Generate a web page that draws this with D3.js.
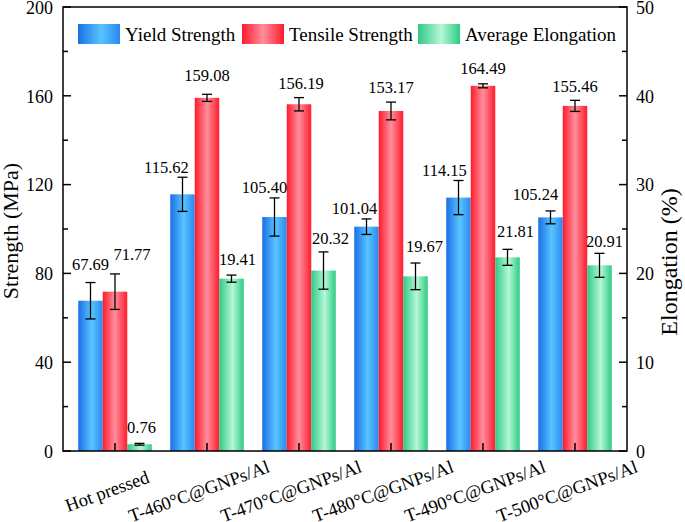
<!DOCTYPE html>
<html><head><meta charset="utf-8">
<script src="https://cdn.jsdelivr.net/npm/d3@7"></script>
<style>
html,body{margin:0;padding:0;background:#fff;}
svg{display:block;}
</style></head>
<body>
<svg id="chart" width="685" height="522"></svg>
<script>
// ---------- data ----------
const categories = ["Hot pressed","T-460°C@GNPs/Al","T-470°C@GNPs/Al","T-480°C@GNPs/Al","T-490°C@GNPs/Al","T-500°C@GNPs/Al"];
const seriesNames = ["Yield Strength","Tensile Strength","Average Elongation"];
const yieldStrength = [67.69,115.62,105.40,101.04,114.15,105.24];
const yieldErr      = [8.2,7.7,8.6,3.5,7.7,2.9];
const tensileStrength = [71.77,159.08,156.19,153.17,164.49,155.46];
const tensileErr      = [8.0,1.6,3.0,4.0,0.9,2.5];
const elongation = [0.76,19.41,20.32,19.67,21.81,20.91];
const elongErr   = [0.1,0.4,2.1,1.5,0.9,1.35];
const leftTicks = [0,40,80,120,160,200];
const rightTicks = [0,10,20,30,40,50];

// ---------- layout ----------
const FONT='Liberation Serif';
const L=63,R=627,T=7,B=451;
const svg=d3.select("#chart");
const yL=d3.scaleLinear().domain([0,200]).range([B,T]);
const yR=d3.scaleLinear().domain([0,50]).range([B,T]);
const x0=d3.scaleBand().domain(categories).range([69,621]).padding(0);
const x1=d3.scaleBand().domain(seriesNames).range([-36.75,36.75]).padding(0);

const grads=[
  {id:"gBlue",stops:[[0,"#1b6fe6"],[0.55,"#58c4ff"],[1,"#2a88f0"]]},
  {id:"gRed",stops:[[0,"#ff1a2c"],[0.5,"#ff8e9b"],[1,"#ff1c2e"]]},
  {id:"gGreen",stops:[[0,"#2ec985"],[0.55,"#b6f7d6"],[1,"#2ccb83"]]}
];
const defs=svg.append("defs");
grads.forEach(g=>{
  const lg=defs.append("linearGradient").attr("id",g.id).attr("x1","0").attr("x2","1").attr("y1","0").attr("y2","0");
  g.stops.forEach(s=>lg.append("stop").attr("offset",s[0]).attr("stop-color",s[1]));
});

const series=[
  {name:seriesNames[0],vals:yieldStrength,err:yieldErr,y:yL,fill:"url(#gBlue)"},
  {name:seriesNames[1],vals:tensileStrength,err:tensileErr,y:yL,fill:"url(#gRed)"},
  {name:seriesNames[2],vals:elongation,err:elongErr,y:yR,fill:"url(#gGreen)"}
];
// label nudges (layout only)
const labelDx=[[0,-16,-10,-12,-14,-15],[17,0,2,0,0,0],[2,6,7,9,8,5]];
const labelGap=[[13,4,5,5,4,11],[14,13,9,9,10,8],[10,10,8,11,12,6]];

function txt(sel){return sel.attr("font-family",FONT).attr("fill","#000");}

// bars
series.forEach((s,si)=>{
  const g=svg.append("g");
  g.selectAll("rect").data(categories).join("rect")
    .attr("x",c=>x0(c)+x0.bandwidth()/2+x1(s.name))
    .attr("width",x1.bandwidth())
    .attr("y",(c,i)=>s.y(s.vals[i]))
    .attr("height",(c,i)=>B-s.y(s.vals[i]))
    .attr("fill",s.fill);
});
// error bars + labels
series.forEach((s,si)=>{
  const g=svg.append("g").attr("stroke","#000").attr("stroke-width",1.3);
  categories.forEach((c,i)=>{
    const cx=x0(c)+x0.bandwidth()/2+x1(s.name)+x1.bandwidth()/2;
    const yt=s.y(s.vals[i]+s.err[i]), yb=s.y(s.vals[i]-s.err[i]);
    g.append("line").attr("x1",cx).attr("x2",cx).attr("y1",yt).attr("y2",yb);
    g.append("line").attr("x1",cx-5).attr("x2",cx+5).attr("y1",yt).attr("y2",yt);
    g.append("line").attr("x1",cx-5).attr("x2",cx+5).attr("y1",yb).attr("y2",yb);
    txt(svg.append("text")).attr("x",cx+labelDx[si][i]).attr("y",yt-labelGap[si][i])
      .attr("text-anchor","middle").attr("font-size",16.5)
      .text(s.vals[i].toFixed(2));
  });
});

// axes frame
const ax=svg.append("g").attr("stroke","#000").attr("stroke-width",1.5).attr("fill","none");
ax.append("rect").attr("x",L).attr("y",T).attr("width",R-L).attr("height",B-T);
const yLminor=d3.range(20,200,40);
leftTicks.forEach(t=>ax.append("line").attr("x1",L).attr("x2",L+8).attr("y1",yL(t)).attr("y2",yL(t)));
yLminor.forEach(t=>ax.append("line").attr("x1",L).attr("x2",L+5).attr("y1",yL(t)).attr("y2",yL(t)));
const yRminor=d3.range(5,50,10);
rightTicks.forEach(t=>ax.append("line").attr("x1",R).attr("x2",R-8).attr("y1",yR(t)).attr("y2",yR(t)));
yRminor.forEach(t=>ax.append("line").attr("x1",R).attr("x2",R-5).attr("y1",yR(t)).attr("y2",yR(t)));
categories.forEach(c=>{
  const cx=x0(c)+x0.bandwidth()/2;
  ax.append("line").attr("x1",cx).attr("x2",cx).attr("y1",B).attr("y2",B-8);
});
// tick labels
txt(svg.append("g")).selectAll("text").data(leftTicks).join("text")
  .attr("x",53).attr("y",d=>yL(d)+0.8).attr("dy","0.33em").attr("text-anchor","end")
  .attr("font-size",18).text(d=>d);
txt(svg.append("g")).selectAll("text").data(rightTicks).join("text")
  .attr("x",636).attr("y",d=>yR(d)+0.8).attr("dy","0.33em").attr("text-anchor","start")
  .attr("font-size",18).text(d=>d);
// x labels
txt(svg.append("g")).selectAll("text").data(categories).join("text")
  .attr("transform",c=>`translate(${x0(c)+x0.bandwidth()/2-8},491) rotate(-20)`)
  .attr("text-anchor","middle").attr("dy","0.35em").attr("font-size",18.5).text(c=>c);
// axis titles
txt(svg.append("text")).attr("transform",`translate(18,${(T+B)/2+2}) rotate(-90)`)
  .attr("text-anchor","middle").attr("font-size",22).text("Strength (MPa)");
txt(svg.append("text")).attr("transform",`translate(677,${(T+B)/2+33}) rotate(-90)`)
  .attr("text-anchor","middle").attr("font-size",24).text("Elongation (%)");

// legend
const legX=[78,242,418];
series.forEach((s,si)=>{
  svg.append("rect").attr("x",legX[si]).attr("y",24).attr("width",42).attr("height",20).attr("fill",s.fill);
  txt(svg.append("text")).attr("x",legX[si]+47).attr("y",41).attr("font-size",19).text(s.name);
});
</script>
</body></html>
